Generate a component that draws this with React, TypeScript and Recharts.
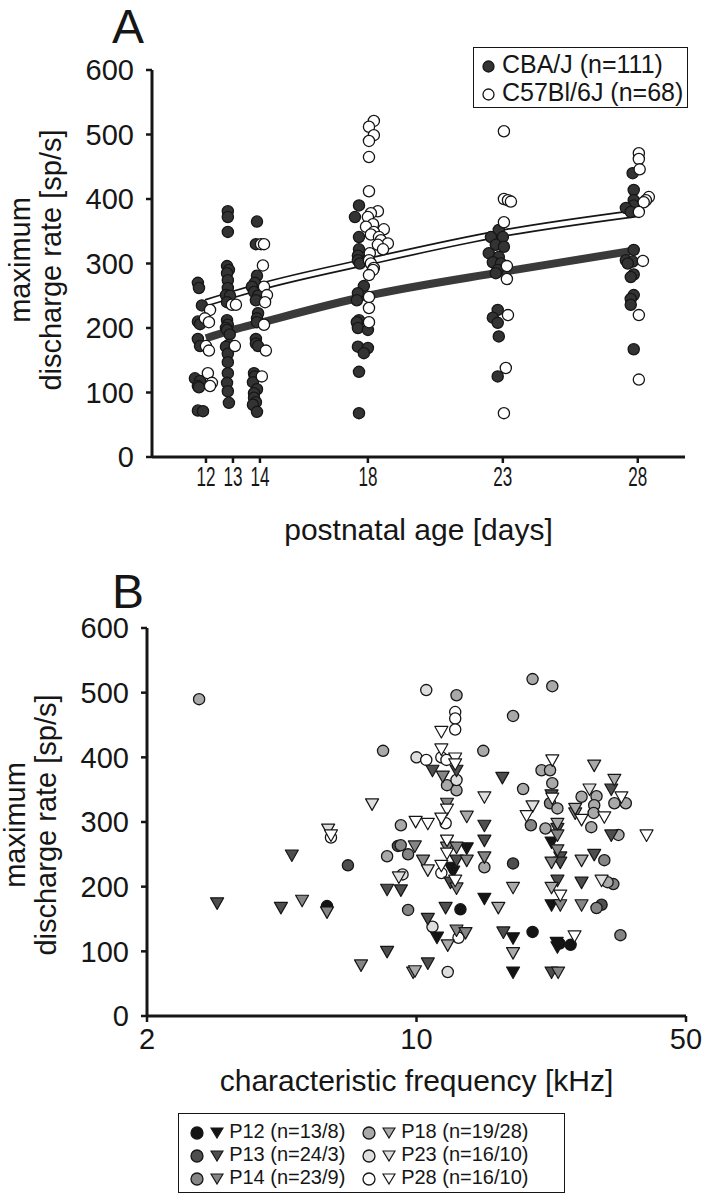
import React from 'react'
import { ComposedChart, ScatterChart, Scatter, Line, XAxis, YAxis } from 'recharts'

// ---- panel A: rate vs postnatal age (x = day incl. jitter, y = sp/s)
const ageTicks = [12, 13, 14, 18, 23, 28]
const rateTicks = [0, 100, 200, 300, 400, 500, 600]

const cbaP12 = [[11.70,270],[11.74,262],[11.85,235],[11.70,210],[11.78,206],[11.70,183],[11.78,172],[11.59,122],[11.78,118],[11.70,110],[11.74,108],[11.70,72],[11.89,71]]
const cbaP13 = [[12.81,381],[12.81,372],[12.81,349],[12.78,296],[12.85,290],[12.78,285],[12.81,274],[12.81,262],[12.74,251],[12.89,250],[12.78,240],[12.78,212],[12.81,205],[12.74,200],[12.78,197],[12.88,190],[12.85,174],[12.74,171],[12.81,160],[12.81,147],[12.81,130],[12.78,115],[12.81,102],[12.85,84]]
const cbaP14 = [[13.89,365],[13.85,330],[13.89,281],[13.81,270],[13.70,264],[13.78,256],[13.93,250],[13.85,243],[13.93,223],[13.89,215],[13.89,209],[13.85,183],[13.85,176],[13.93,172],[13.78,130],[13.81,125],[13.74,116],[13.89,105],[13.78,99],[13.78,92],[13.85,85],[13.74,81],[13.89,70]]
const cbaP18 = [[17.67,390],[17.52,372],[17.67,341],[17.67,322],[17.63,312],[17.63,305],[17.70,300],[17.85,265],[17.63,254],[17.59,243],[17.67,212],[17.59,209],[17.63,200],[18.00,197],[17.63,171],[18.00,169],[17.85,161],[17.67,132],[17.67,68]]
const cbaP23 = [[22.85,352],[22.56,341],[23.00,341],[22.74,329],[23.04,326],[22.48,316],[22.85,310],[22.63,302],[22.93,300],[22.81,290],[22.74,285],[22.81,228],[22.63,216],[22.81,208],[22.85,187],[22.81,125]]
const cbaP28 = [[27.81,440],[27.85,414],[27.85,398],[27.85,390],[27.56,386],[27.74,380],[27.85,321],[27.56,305],[27.81,303],[27.63,300],[27.85,283],[27.74,279],[27.85,251],[27.74,245],[27.74,236],[27.85,167]]

const c57P12 = [[12.15,228],[11.96,215],[12.11,209],[12.00,172],[12.11,165],[12.07,130],[12.22,115],[12.15,110]]
const c57P13 = [[12.96,236],[13.11,236],[13.07,172]]
const c57P14 = [[14.04,330],[14.15,330],[14.11,297],[14.15,264],[14.26,251],[14.19,240],[14.15,205],[14.22,165],[14.07,125]]
const c57P18 = [[18.22,521],[18.04,512],[18.22,499],[18.04,490],[18.04,465],[18.04,412],[18.37,381],[18.11,378],[18.00,372],[18.19,361],[17.93,357],[18.59,353],[18.22,349],[18.11,345],[18.41,341],[18.48,336],[18.74,331],[18.37,329],[18.56,322],[18.07,316],[18.04,305],[18.11,300],[18.22,293],[18.19,290],[18.04,282],[18.04,248],[18.04,231],[18.04,209]]
const c57P23 = [[23.04,505],[23.04,400],[23.19,398],[23.30,396],[23.04,364],[23.15,296],[23.15,276],[23.19,220],[23.11,138],[23.04,68]]
const c57P28 = [[28.04,471],[28.04,462],[28.07,446],[28.41,403],[28.30,398],[28.22,395],[28.04,380],[28.19,304],[28.04,220],[28.04,120]]

const fitDays = [12, 13, 14, 18, 23, 28]
const cbaFit = [184, 197, 208, 250, 287, 321]
const c57Fit = [239, 252, 264, 303, 347, 378]

// ---- panel B: rate vs characteristic frequency (kHz)
const cfTicks = [2, 10, 50]

const p12Circ = [[5.86,170],[13.0,165],[20.0,130],[25.1,110],[23.5,112]]
const p12Tri = [[11.3,122],[13.5,260],[12.25,230],[12.45,224],[15.0,182],[17.8,121],[17.8,68],[22.4,269],[22.4,172],[23.1,114],[23.2,107]]
const p13Circ = [[6.64,233],[8.95,263],[17.8,236],[30.2,172]]
const p13Tri = [[3.04,175],[4.45,168],[4.75,249],[8.39,100],[8.39,196],[9.11,195],[11.0,380],[10.7,151],[10.7,82],[12.7,380],[12.7,241],[12.25,207],[11.9,168],[15.0,295],[15.0,272],[16.7,369],[16.8,130],[22.4,342],[23.2,290],[23.6,246],[23.6,238],[23.2,210],[22.4,68],[28.9,250],[26.8,207],[32.0,351],[32.0,280]]
const p14Circ = [[9.51,250],[9.51,164],[19.8,295],[22.2,329],[30.7,241],[32.4,204],[29.3,167],[33.8,125],[9.1,264]]
const p14Tri = [[5.05,179],[5.86,161],[7.18,79],[9.9,263],[10.4,241],[11.7,371],[12.0,329],[12.0,261],[12.7,261],[13.5,241],[12.7,198],[12.7,133],[13.4,129],[15.0,246],[23.2,280],[23.2,257],[22.4,238],[23.6,172],[23.3,68],[25.8,314],[26.8,172],[9.8,68]]
const p18Circ = [[2.73,490],[8.19,410],[9.11,295],[8.39,247],[12.7,496],[12.0,357],[12.7,349],[14.9,410],[15.0,230],[17.8,464],[20.0,521],[22.5,510],[18.9,351],[21.1,380],[22.2,380],[22.5,360],[23.2,321],[21.6,290],[26.8,339],[29.3,340],[28.9,326],[28.8,314],[28.4,292],[31.3,207],[32.6,329],[34.9,329],[33.4,280]]
const p18Tri = [[9.91,70],[13.5,309],[17.8,98],[17.8,199],[23.2,298],[22.4,199],[25.8,321],[26.8,241],[12.05,110],[16.3,168],[28.9,388],[32.6,366]]
const p23Circ = [[10.0,400],[10.6,504],[11.0,138],[12.05,68],[12.7,365],[9.2,219]]
const p23Tri = [[5.9,289],[7.67,328],[9.0,215],[15.0,339],[20.0,325],[10.7,226],[28.1,351],[30.2,210]]
const p28Circ = [[6.0,276],[10.6,396],[12.6,470],[12.6,460],[12.6,443],[11.6,400],[11.96,396],[11.9,298],[11.6,221],[12.85,121]]
const p28Tri = [[6.0,280],[9.95,301],[10.7,298],[11.6,440],[11.6,413],[12.6,399],[12.6,390],[12.0,320],[11.6,306],[12.0,272],[12.0,252],[11.6,233],[12.6,210],[19.3,310],[22.5,396],[22.5,337],[23.6,187],[25.7,124],[26.8,304],[30.7,308],[34.0,339],[39.5,280]]

const pts = (a: number[][]) => a.map(([x, y]) => ({ x, y }))
const fitPts = (ys: number[]) => fitDays.map((x, i) => ({ x, y: ys[i] }))

const INK = '#161616'
const FONT = "'Liberation Sans', Arial, sans-serif"
const shade = { p12: '#141414', p13: '#4e4e4e', p14: '#858585', p18: '#a9a9a9', p23: '#dedede', p28: '#ffffff' }

const dot = (fill: string) => (p: any) => <circle cx={p.cx} cy={p.cy} r={5.6} fill={fill} stroke={INK} strokeWidth={1.3} />
const tri = (fill: string) => (p: any) => (
  <path d={`M${p.cx - 6.5},${p.cy - 5} L${p.cx + 6.5},${p.cy - 5} L${p.cx},${p.cy + 6.5} Z`} fill={fill} stroke={INK} strokeWidth={1.2} strokeLinejoin="round" />
)

const axisLine = { stroke: INK, strokeWidth: 3 }
const tickLine = { stroke: INK, strokeWidth: 2.5 }
const tickFont = { fill: INK, fontSize: 29, fontFamily: FONT }

// the age ticks are set in a narrow face in the original
const NarrowTick = ({ x, y, payload }: any) => (
  <text x={x} y={y + 21} textAnchor="middle" fill={INK} fontSize={24} fontFamily={FONT} textLength={19} lengthAdjust="spacingAndGlyphs" transform={`translate(${x},${y + 21}) scale(1,1.15) translate(${-x},${-(y + 21)})`}>{payload.value}</text>
)

const abs = (left: number, top: number, extra: React.CSSProperties = {}): React.CSSProperties => ({ position: 'absolute', left, top, fontFamily: FONT, color: INK, whiteSpace: 'nowrap', lineHeight: 1, ...extra })

const LegendTri = ({ fill }: { fill: string }) => (
  <svg width={14} height={12} style={{ display: 'inline-block', verticalAlign: 'middle' }}><path d="M1,1 L13,1 L7,11 Z" fill={fill} stroke={INK} strokeWidth={1.2} /></svg>
)
const LegendDot = ({ fill, r = 6 }: { fill: string; r?: number }) => (
  <svg width={r * 2 + 2} height={r * 2 + 2} style={{ display: 'inline-block', verticalAlign: 'middle' }}><circle cx={r + 1} cy={r + 1} r={r} fill={fill} stroke={INK} strokeWidth={1.3} /></svg>
)

const legendB = [
  { fill: shade.p12, label: 'P12 (n=13/8)' },
  { fill: shade.p13, label: 'P13 (n=24/3)' },
  { fill: shade.p14, label: 'P14 (n=23/9)' },
  { fill: shade.p18, label: 'P18 (n=19/28)' },
  { fill: shade.p23, label: 'P23 (n=16/10)' },
  { fill: shade.p28, label: 'P28 (n=16/10)' },
]

export default function App() {
  const groupsB = [
    { c: p12Circ, t: p12Tri, f: shade.p12 },
    { c: p13Circ, t: p13Tri, f: shade.p13 },
    { c: p14Circ, t: p14Tri, f: shade.p14 },
    { c: p18Circ, t: p18Tri, f: shade.p18 },
    { c: p23Circ, t: p23Tri, f: shade.p23 },
    { c: p28Circ, t: p28Tri, f: shade.p28 },
  ]
  return (
    <div style={{ position: 'absolute', left: 0, top: 0, width: 703, height: 1199, background: '#fff', overflow: 'hidden' }}>
      {/* panel A */}
      <div style={abs(112, 3, { fontSize: 48 })}>A</div>
      <div style={{ position: 'absolute', left: 0, top: 0 }}>
        <ComposedChart width={703} height={560} margin={{ top: 70, right: 18, left: 0, bottom: 63 }}>
          <XAxis type="number" dataKey="x" domain={[10, 29.75]} ticks={ageTicks} allowDataOverflow axisLine={axisLine} tickLine={tickLine} tickSize={6} height={40} tick={<NarrowTick />} interval={0} />
          <YAxis type="number" dataKey="y" domain={[0, 600]} ticks={rateTicks} axisLine={axisLine} tickLine={tickLine} tickSize={6} tickMargin={12} width={152} tick={tickFont} interval={0} />
          <Line data={fitPts(cbaFit)} dataKey="y" type="monotone" stroke="#3a3a3a" strokeWidth={8} dot={false} activeDot={false} isAnimationActive={false} />
          <Line data={fitPts(c57Fit)} dataKey="y" type="monotone" stroke={INK} strokeWidth={8} dot={false} activeDot={false} isAnimationActive={false} />
          <Line data={fitPts(c57Fit)} dataKey="y" type="monotone" stroke="#fff" strokeWidth={4.6} dot={false} activeDot={false} isAnimationActive={false} />
          {[cbaP12, cbaP13, cbaP14, cbaP18, cbaP23, cbaP28].map((g, i) => (
            <Scatter key={'cba' + i} data={pts(g)} shape={dot('#333333')} isAnimationActive={false} />
          ))}
          {[c57P12, c57P13, c57P14, c57P18, c57P23, c57P28].map((g, i) => (
            <Scatter key={'c57' + i} data={pts(g)} shape={dot('#ffffff')} isAnimationActive={false} />
          ))}
        </ComposedChart>
      </div>
      <div style={abs(-114, 229, { fontSize: 29, width: 300, textAlign: 'center', transform: 'rotate(-90deg)', lineHeight: '31px' })}>
        maximum<br />discharge rate [sp/s]
      </div>
      <div style={abs(152, 515, { fontSize: 30, width: 533, textAlign: 'center' })}>postnatal age [days]</div>
      <div style={{ position: 'absolute', left: 473, top: 47, width: 215, height: 61, border: `1.5px solid ${INK}`, background: '#fff', fontFamily: FONT, fontSize: 25, color: INK, lineHeight: '28px', padding: '2px 0 0 8px', boxSizing: 'border-box', whiteSpace: 'nowrap' }}>
        <div><LegendDot fill="#333333" r={5.5} /> CBA/J (n=111)</div>
        <div><LegendDot fill="#ffffff" r={5.5} /> C57Bl/6J (n=68)</div>
      </div>

      {/* panel B */}
      <div style={abs(112, 568, { fontSize: 48 })}>B</div>
      <div style={{ position: 'absolute', left: 0, top: 580 }}>
        <ScatterChart width={703} height={500} margin={{ top: 48, right: 17, left: 0, bottom: 24 }}>
          <XAxis type="number" dataKey="x" scale="log" domain={[2, 50]} ticks={cfTicks} allowDataOverflow axisLine={axisLine} tickLine={tickLine} tickSize={6} tickMargin={6} height={40} tick={tickFont} interval={0} />
          <YAxis type="number" dataKey="y" domain={[0, 600]} ticks={rateTicks} axisLine={axisLine} tickLine={tickLine} tickSize={6} tickMargin={12} width={147} tick={tickFont} interval={0} />
          {groupsB.map((g, i) => (
            <Scatter key={'c' + i} data={pts(g.c)} shape={dot(g.f)} isAnimationActive={false} />
          ))}
          {groupsB.map((g, i) => (
            <Scatter key={'t' + i} data={pts(g.t)} shape={tri(g.f)} isAnimationActive={false} />
          ))}
        </ScatterChart>
      </div>
      <div style={abs(-119, 794, { fontSize: 29, width: 300, textAlign: 'center', transform: 'rotate(-90deg)', lineHeight: '31px' })}>
        maximum<br />discharge rate [sp/s]
      </div>
      <div style={abs(147, 1066, { fontSize: 30, width: 539, textAlign: 'center' })}>characteristic frequency [kHz]</div>
      <div style={{ position: 'absolute', left: 178, top: 1113, width: 387, height: 80, border: `1.5px solid ${INK}`, fontFamily: FONT, fontSize: 20, color: INK, lineHeight: '23px', padding: '6px 0 0 11px', boxSizing: 'border-box', display: 'grid', gridTemplateColumns: '172px 200px', gridAutoFlow: 'column', gridTemplateRows: 'repeat(3, 23px)', whiteSpace: 'nowrap' }}>
        {legendB.map(l => (
          <div key={l.label}><LegendDot fill={l.fill} /> <LegendTri fill={l.fill} /> {l.label}</div>
        ))}
      </div>
    </div>
  )
}
